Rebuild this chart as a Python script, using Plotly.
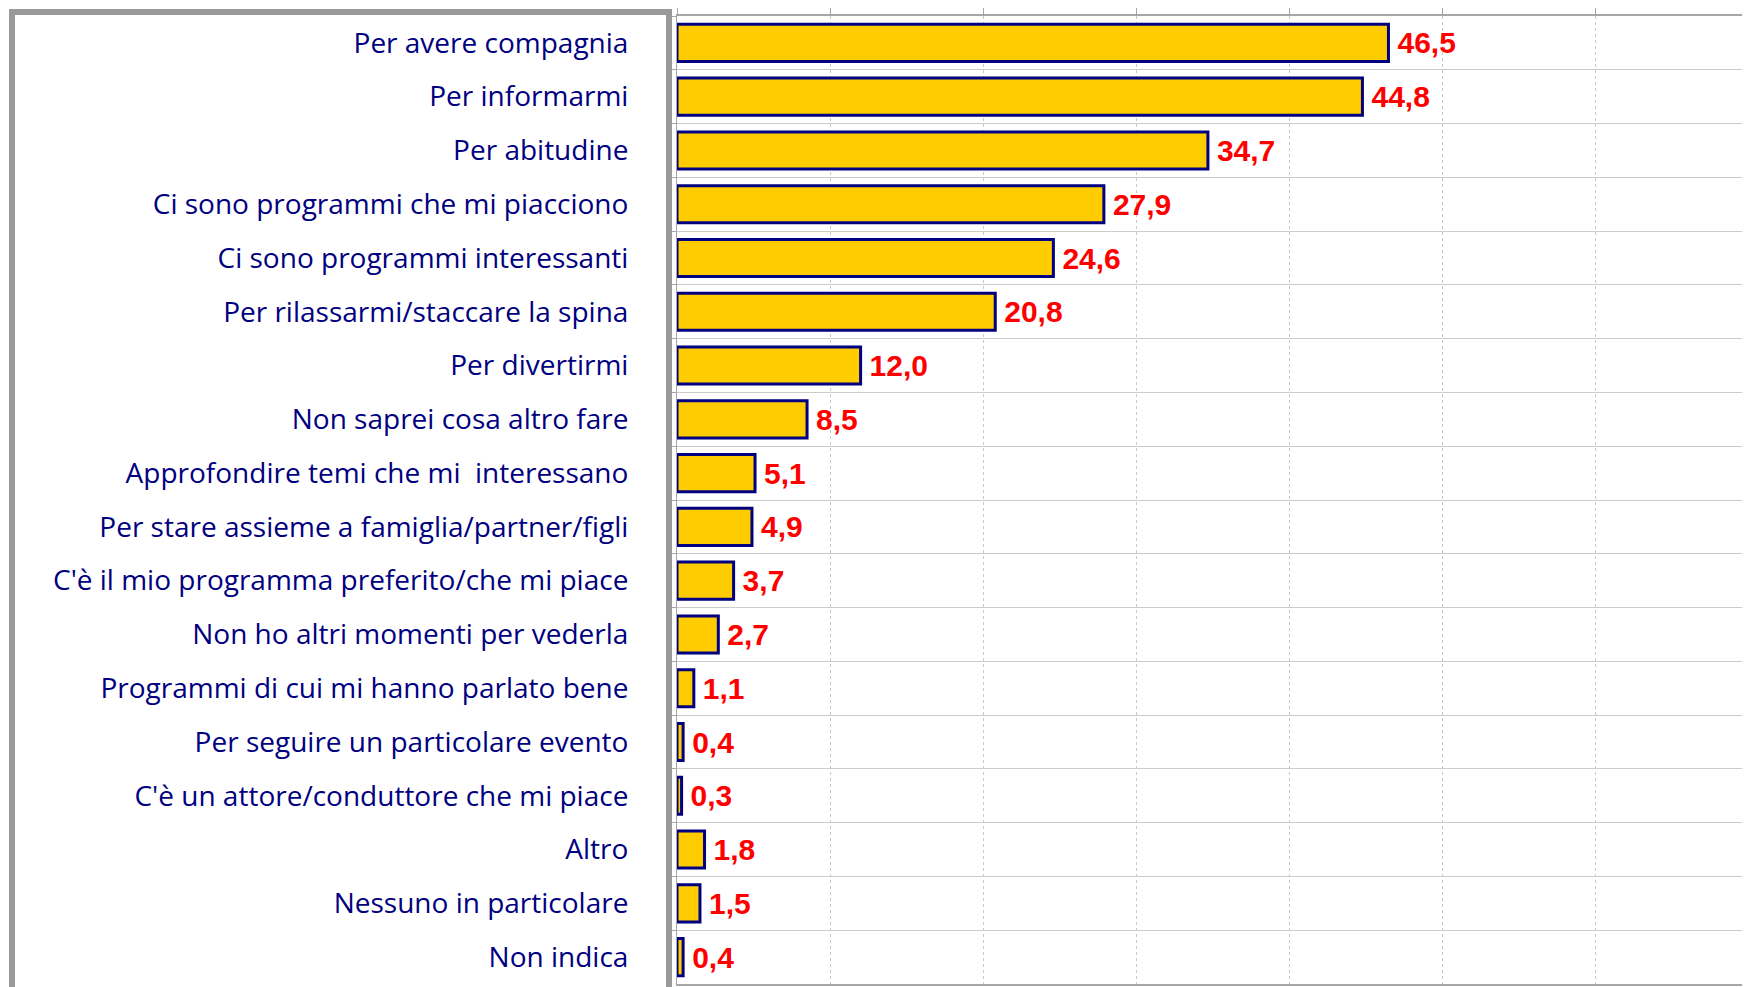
import plotly.graph_objects as go

categories = [
    "Per avere compagnia",
    "Per informarmi",
    "Per abitudine",
    "Ci sono programmi che mi piacciono",
    "Ci sono programmi interessanti",
    "Per rilassarmi/staccare la spina",
    "Per divertirmi",
    "Non saprei cosa altro fare",
    "Approfondire temi che mi  interessano",
    "Per stare assieme a famiglia/partner/figli",
    "C'è il mio programma preferito/che mi piace",
    "Non ho altri momenti per vederla",
    "Programmi di cui mi hanno parlato bene",
    "Per seguire un particolare evento",
    "C'è un attore/conduttore che mi piace",
    "Altro",
    "Nessuno in particolare",
    "Non indica",
]
values = [46.5, 44.8, 34.7, 27.9, 24.6, 20.8, 12.0, 8.5, 5.1, 4.9, 3.7, 2.7, 1.1, 0.4, 0.3, 1.8, 1.5, 0.4]
x_ticks = [0, 10, 20, 30, 40, 50, 60, 70]

# page has an 8px body margin, so the figure is sized to fit inside it
W, H = 1742, 979
L, R, T, B = 669, 2, 5, 1

fig = go.Figure()
fig.add_trace(go.Bar(
    x=values,
    y=categories,
    orientation="h",
    width=0.69,
    marker=dict(color="#FFCC00", line=dict(color="#000080", width=3)),
    texttemplate="\u2009%{x:.1f}",
    textposition="outside",
    textfont=dict(family="Liberation Sans, Arial", size=30, color="#FF0000", weight="bold"),
    cliponaxis=False,
    hoverinfo="skip",
))

fig.update_layout(
    width=W, height=H,
    margin=dict(l=L, r=R, t=T, b=B, pad=0),
    plot_bgcolor="white",
    paper_bgcolor="white",
    separators=",.",
    showlegend=False,
    xaxis=dict(
        range=[0, 70], side="top", tickvals=x_ticks, showticklabels=False,
        ticks="outside", ticklen=7, tickcolor="#a6a6a6",
        showgrid=True, gridcolor="#c8c8c8", griddash="dot", gridwidth=1,
        showline=True, linecolor="#a6a6a6", linewidth=2, mirror=True,
        zeroline=False, fixedrange=True,
    ),
    yaxis=dict(
        autorange="reversed", type="category", tickson="boundaries",
        ticks="outside", ticklen=4, tickcolor="#a6a6a6",
        showgrid=True, gridcolor="#cccccc", gridwidth=1,
        showline=True, linecolor="#a6a6a6", linewidth=1, mirror=True,
        ticklabelstandoff=42,
        tickfont=dict(family="Open Sans, Noto Sans", size=28, color="#000080"),
        fixedrange=True,
    ),
)

# grey frame around the category labels
pw, ph = W - L - R, H - T - B
fig.add_shape(
    type="rect", xref="paper", yref="paper",
    x0=(4 - L) / pw, x1=(661 - L) / pw,
    y0=(H - B - 1000) / ph, y1=(H - B - 1) / ph,
    line=dict(color="#999999", width=6), fillcolor="rgba(0,0,0,0)",
    layer="above",
)

fig.write_html("out.html")
